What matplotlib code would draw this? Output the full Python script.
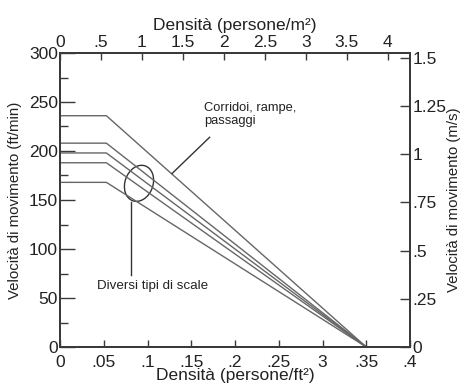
import numpy as np
import matplotlib.pyplot as plt
from matplotlib.patches import Ellipse
from matplotlib.transforms import ScaledTranslation

plt.rcParams['font.family'] = ['Liberation Sans', 'DejaVu Sans']

# density (persons/ft2) at the knee and at zero speed
d_knee = 0.053
d_stop = 0.35
# flat speeds (ft/min): corridors first, then the stair types
corridor_speed = 236
stair_speeds = [208, 198, 188, 168]

bottom_ticks = [0, .05, .1, .15, .2, .25, .3, .35, .4]
bottom_labels = ['0', '.05', '.1', '.15', '.2', '.25', '3', '.35', '.4']
top_ticks = [0, .5, 1, 1.5, 2, 2.5, 3, 3.5, 4]
top_labels = ['0', '.5', '1', '1.5', '2', '2.5', '3', '3.5', '4']
right_ticks = [0, .25, .5, .75, 1, 1.25, 1.5]
right_labels = ['0', '.25', '.5', '.75', '1', '1.25', '1.5']

line_col = '#666666'
spine_col = '#3a3a3a'
txt_col = '#222222'
fs_tick = 12.5
fs_ylab = 10.8

fig = plt.figure(figsize=(4.66, 3.92), dpi=100)
ax = fig.add_axes([60/466, 45/392, 350/466, 294/392])

for s in [corridor_speed] + stair_speeds:
    ax.plot([0, d_knee, d_stop], [s, s, 0], color=line_col, lw=1.0)

ax.set_xlim(0, 0.4)
ax.set_ylim(0, 300)
ax.set_xticks(bottom_ticks)
ax.set_xticklabels(bottom_labels)
ax.set_yticks(np.arange(0, 301, 50))
ax.set_yticks(np.arange(25, 300, 50), minor=True)
ax.tick_params(axis='x', direction='in', length=5, width=1, pad=5.5, labelsize=fs_tick, colors=spine_col, labelcolor=txt_col)
ax.tick_params(axis='y', which='major', direction='in', length=11, width=1, pad=1.5, labelsize=fs_tick, colors=spine_col, labelcolor=txt_col)
ax.tick_params(axis='y', which='minor', direction='in', length=6, width=1, colors=spine_col)
for sp in ax.spines.values():
    sp.set_color(spine_col)
    sp.set_linewidth(1.3)
ax.set_xlabel('Densità (persone/ft²)', fontsize=fs_tick, labelpad=-1, color=txt_col)
ax.set_ylabel('Velocità di movimento (ft/min)', fontsize=fs_ylab, labelpad=5, color=txt_col)

# top axis in persons/m2
axt = ax.twiny()
axt.set_xlim(0, 4.27)
axt.set_xticks(top_ticks)
axt.set_xticklabels(top_labels)
axt.tick_params(axis='x', direction='in', length=5, width=1, pad=2, labelsize=fs_tick, colors=spine_col, labelcolor=txt_col)
axt.set_xlabel('Densità (persone/m²)', fontsize=fs_tick, labelpad=3.5, color=txt_col)

# right axis in m/s
axr = ax.twinx()
axr.set_ylim(0, 300 * 0.00508)
axr.set_yticks(right_ticks)
axr.set_yticklabels(right_labels)
axr.tick_params(axis='y', direction='in', length=7, width=1, pad=2, labelsize=fs_tick, colors=spine_col, labelcolor=txt_col)
axr.set_ylabel('Velocità di movimento (m/s)', fontsize=fs_ylab, labelpad=0, color=txt_col)
for a in (axt, axr):
    for sp in a.spines.values():
        sp.set_color(spine_col)
        sp.set_linewidth(1.3)

# annotations
ax.text(0.165, 250, 'Corridoi, rampe,\npassaggi', fontsize=9.3, va='top', ha='left', color=txt_col, linespacing=1.1)
ax.plot([0.171, 0.128], [214, 177], color='#333', lw=1.0)

ell = Ellipse((0, 0), 0.28, 0.37, angle=-20, fill=False, edgecolor='#333', lw=1.0,
              transform=fig.dpi_scale_trans + ScaledTranslation(0.0903, 167, ax.transData))
ax.add_patch(ell)
ax.plot([0.081, 0.081], [148, 73], color='#333', lw=1.0)
ax.text(0.042, 62, 'Diversi tipi di scale', fontsize=9.6, va='center', ha='left', color=txt_col)

fig.savefig('out.png', dpi=100)
